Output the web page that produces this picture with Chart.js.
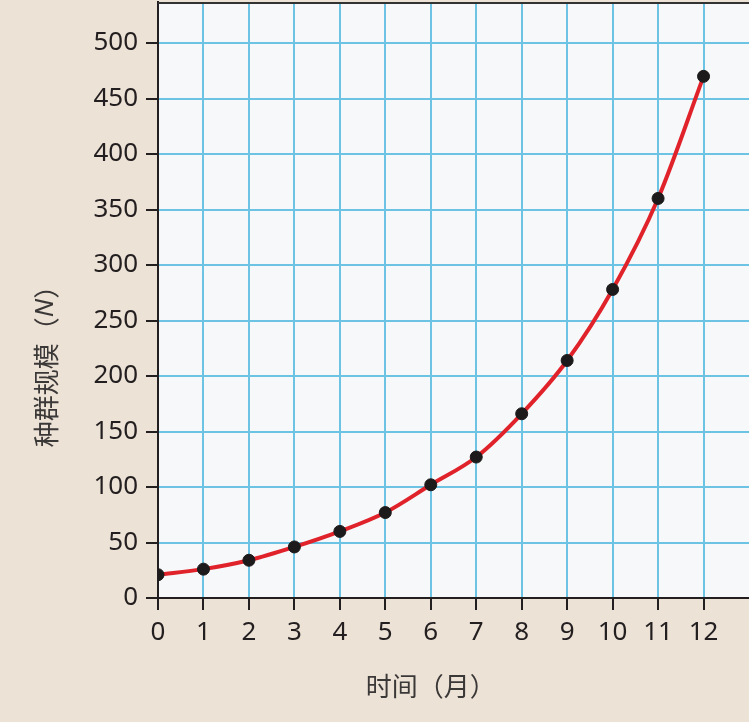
<!DOCTYPE html>
<html>
<head>
<meta charset="utf-8">
<script src="https://cdn.jsdelivr.net/npm/chart.js@4"></script>
<style>
  html, body { margin: 0; padding: 0; background: #ede2d6; }
  #wrap { width: 749px; height: 722px; position: relative; }
</style>
</head>
<body>
<div id="wrap"><canvas id="popChart"></canvas></div>
<script>
/* data */
const months = [0, 1, 2, 3, 4, 5, 6, 7, 8, 9, 10, 11, 12];
const population = [21, 26, 34, 46, 60, 77, 102, 127, 166, 214, 278, 360, 470];
const yTicks = [0, 50, 100, 150, 200, 250, 300, 350, 400, 450, 500];
const xTitle = '时间（月）';
const yTitleParts = ['种群规模（', 'N', '）'];

const ink = '#231f20';
const gridBlue = '#6cc3e3';
const numFont = { family: '"Noto Sans", sans-serif', size: 26 };

/* plot background + top border + axis titles */
const paperPlugin = {
    id: 'paper',
    beforeDraw(chart) {
        const { ctx, chartArea: a } = chart;
        ctx.save();
        ctx.fillStyle = '#f7f8f9';
        ctx.fillRect(a.left, a.top, a.right - a.left, a.bottom - a.top);
        ctx.restore();
    },
    afterDraw(chart) {
        const { ctx, chartArea: a, scales } = chart;
        ctx.save();
        // dark line along the top
        ctx.strokeStyle = '#333';
        ctx.lineWidth = 2;
        ctx.beginPath();
        ctx.moveTo(a.left, a.top + 1);
        ctx.lineTo(a.right, a.top + 1);
        ctx.stroke();

        // x title, centred on the 0..12 range
        ctx.fillStyle = '#3b3838';
        ctx.font = '26px "Noto Sans CJK SC", sans-serif';
        ctx.textAlign = 'center';
        ctx.textBaseline = 'middle';
        const xc = (scales.x.getPixelForValue(0) + scales.x.getPixelForValue(12)) / 2;
        ctx.fillText(xTitle, xc, 686);

        // y title, rotated, italic N
        const fonts = ['26px "Noto Sans CJK SC", sans-serif', 'italic 26px "Noto Sans", sans-serif', '26px "Noto Sans CJK SC", sans-serif'];
        let widths = yTitleParts.map((t, i) => { ctx.font = fonts[i]; return ctx.measureText(t).width; });
        const total = widths.reduce((s, w) => s + w, 0);
        ctx.translate(46, 360);
        ctx.rotate(-Math.PI / 2);
        ctx.textAlign = 'left';
        let x = -total / 2;
        yTitleParts.forEach((t, i) => {
            ctx.font = fonts[i];
            ctx.fillText(t, x, 0);
            x += widths[i];
        });
        ctx.restore();
    }
};

// no extra room for tick labels at the ends
const noEdgePad = s => {
    s.paddingTop = 0;
    s.paddingRight = 0;
    s.paddingLeft = 0;
    s.paddingBottom = 0;
};

const ctx = document.getElementById('popChart').getContext('2d');

new Chart(ctx, {
    type: 'line',
    data: {
        datasets: [{
            data: months.map((m, i) => ({ x: m, y: population[i] })),
            borderColor: '#e0232b',
            borderWidth: 4,
            cubicInterpolationMode: 'monotone',
            pointBackgroundColor: '#1c1a1b',
            pointBorderColor: '#1c1a1b',
            pointRadius: 6,
            pointBorderWidth: 1,
        }]
    },
    options: {
        responsive: true,
        maintainAspectRatio: false,
        animation: false,
        layout: { autoPadding: false, padding: { top: 2, right: 0, left: 0, bottom: 0 } },
        plugins: {
            legend: { display: false },
            tooltip: { enabled: false }
        },
        scales: {
            x: {
                type: 'linear',
                min: 0,
                max: 13,
                afterBuildTicks: s => { s.ticks = months.map(v => ({ value: v })); },
                afterFit: s => { s.height = 124; noEdgePad(s); },
                grid: {
                    color: gridBlue,
                    lineWidth: 2,
                    tickColor: ink,
                    tickLength: 12,
                    tickWidth: 2
                },
                border: { color: ink, width: 2 },
                ticks: {
                    color: ink,
                    font: numFont,
                    padding: 7,
                    maxRotation: 0,
                    autoSkip: false
                }
            },
            y: {
                min: 0,
                max: 537,
                afterBuildTicks: s => { s.ticks = yTicks.map(v => ({ value: v })); },
                afterFit: s => { s.width = 158; noEdgePad(s); },
                grid: {
                    color: gridBlue,
                    lineWidth: 2,
                    tickColor: ink,
                    tickLength: 12,
                    tickWidth: 2
                },
                border: { color: ink, width: 2 },
                ticks: {
                    color: ink,
                    font: numFont,
                    padding: 8
                }
            }
        }
    },
    plugins: [paperPlugin]
});
</script>
</body>
</html>
